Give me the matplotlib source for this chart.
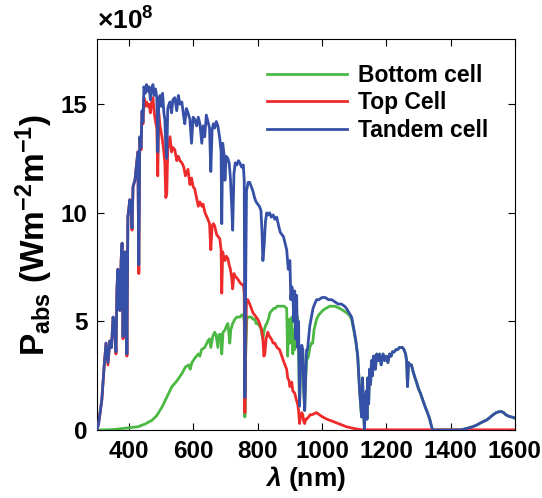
import numpy as np
import matplotlib.pyplot as plt

plt.rcParams['font.family'] = 'Liberation Sans'
plt.rcParams['font.weight'] = 'bold'
plt.rcParams['mathtext.fontset'] = 'custom'
plt.rcParams['mathtext.rm'] = 'Liberation Sans:bold'
plt.rcParams['mathtext.bf'] = 'Liberation Sans:bold'
plt.rcParams['mathtext.it'] = 'Liberation Sans:italic:bold'
plt.rcParams['mathtext.default'] = 'bf'

# absorbed power density, units of 1e8 W m^-2 m^-1
wl_tandem = [300, 305, 315, 322, 328, 334, 340, 345, 350, 355, 359, 362, 365, 368, 371, 375, 378, 381, 384,
             387, 390, 393, 396, 402, 406, 409, 412, 418, 422, 427, 430, 433, 437, 440, 443, 446, 450, 454,
             458, 462, 466, 470, 474, 478, 482, 486, 489, 492, 496, 500, 504, 508, 511, 514, 517, 520, 524,
             527, 532, 536, 542, 548, 553, 558, 564, 569, 573, 578, 583, 589, 594, 599, 604, 610, 615, 620,
             626, 630, 635, 640, 645, 650, 654, 658, 662, 666, 671, 676, 682, 686, 688, 691, 695, 698, 702,
             707, 711, 715, 719, 722, 726, 730, 735, 740, 744, 750, 755, 758, 760, 762, 765, 770, 775, 780,
             785, 790, 795, 800, 805, 810, 813, 816, 820, 824, 828, 833, 837, 842, 848, 853, 859, 865, 870,
             875, 880, 885, 890, 895, 900, 903, 906, 909, 912, 915, 918, 921, 924, 927, 930, 933, 937, 940,
             943, 946, 949, 952, 955, 958, 962, 967, 972, 977, 983, 990, 1000, 1010, 1020, 1030, 1040, 1050,
             1060, 1070, 1076, 1084, 1092, 1096, 1101, 1106, 1111, 1114, 1117, 1120, 1123, 1126, 1129, 1132,
             1135, 1138, 1140, 1142, 1145, 1148, 1151, 1154, 1157, 1160, 1163, 1166, 1170, 1175, 1179, 1184,
             1190, 1195, 1200, 1205, 1210, 1215, 1219, 1225, 1230, 1235, 1241, 1246, 1250, 1255, 1260, 1263,
             1266, 1269, 1273, 1278, 1285, 1294, 1300, 1306, 1313, 1320, 1328, 1335, 1340, 1344, 1430, 1450,
             1468, 1480, 1490, 1500, 1511, 1520, 1530, 1542, 1550, 1558, 1565, 1572, 1583, 1590, 1600]
p_tandem = [0, 0.3, 1.4, 2.9, 4.0, 3.1, 4.1, 3.8, 5.2, 4.6, 3.6, 6.5, 7.4, 6.0, 5.5, 7.8, 8.6, 4.3, 7.5,
            8.2, 7.9, 3.5, 9.8, 10.6, 10.1, 9.3, 11.2, 11.5, 12.1, 12.8, 7.6, 13.5, 13.0, 14.7, 14.2, 15.8,
            15.5, 15.9, 15.6, 15.8, 15.2, 15.7, 15.9, 15.4, 15.7, 15.3, 12.8, 15.0, 15.4, 14.9, 15.5, 14.6,
            14.3, 13.0, 12.5, 14.8, 15.0, 15.1, 14.6, 15.2, 15.3, 14.7, 15.4, 15.0, 15.1, 14.5, 14.1, 14.8,
            14.6, 14.3, 13.2, 14.4, 14.3, 14.0, 14.4, 14.1, 13.2, 14.0, 13.5, 14.5, 14.2, 13.9, 11.9, 13.8,
            14.1, 13.9, 14.2, 14.0, 13.4, 12.8, 9.5, 13.2, 12.7, 11.5, 12.6, 12.5, 12.3, 11.6, 10.3, 9.2,
            11.8, 12.3, 12.2, 12.4, 12.3, 12.1, 12.2, 11.5, 1.5, 6.0, 11.0, 11.4, 11.4, 11.2, 11.0, 10.7,
            10.5, 10.4, 10.3, 10.1, 9.2, 7.8, 8.5, 9.6, 10.0, 9.9, 10.0, 9.8, 9.9, 9.7, 9.8, 9.4, 9.1, 9.0,
            8.9, 8.6, 8.3, 7.4, 7.8, 6.0, 6.6, 6.4, 5.0, 6.4, 4.2, 6.2, 3.8, 5.0, 1.1, 3.0, 3.9, 3.7, 2.0,
            0.9, 2.5, 3.7, 3.7, 4.2, 4.8, 5.2, 5.6, 5.8, 6.0, 6.0, 6.1, 6.1, 6.0, 6.0, 5.9, 5.8, 5.8, 5.7,
            5.6, 5.4, 5.2, 4.9, 4.5, 4.0, 3.4, 2.6, 1.8, 1.2, 0.6, 2.4, 0.9, 0.0, 1.5, 1.8, 0.5, 2.4, 1.2,
            2.8, 2.1, 3.2, 2.5, 3.4, 3.4, 2.8, 3.5, 3.2, 3.5, 3.0, 3.5, 3.2, 3.4, 3.1, 3.5, 3.4, 3.6, 3.6,
            3.7, 3.7, 3.8, 3.8, 3.8, 3.7, 3.5, 3.2, 2.0, 3.1, 3.0, 3.0, 2.6, 2.2, 1.9, 1.7, 1.4, 1.1, 0.8,
            0.5, 0.2, 0.0, 0.0, 0.07, 0.15, 0.22, 0.3, 0.38, 0.45, 0.55, 0.68, 0.8, 0.84, 0.85, 0.8, 0.7,
            0.62, 0.6, 0.55]

wl_top = [300, 305, 315, 322, 328, 334, 340, 345, 350, 355, 359, 362, 365, 368, 371, 375, 378, 381, 384,
          387, 390, 393, 396, 402, 406, 409, 412, 418, 422, 427, 430, 433, 437, 440, 443, 446, 450, 454, 458,
          462, 466, 470, 474, 478, 482, 486, 489, 492, 496, 502, 508, 511, 514, 517, 520, 527, 532, 536, 542,
          548, 553, 558, 564, 570, 575, 583, 589, 594, 599, 604, 611, 615, 620, 626, 630, 636, 642, 645, 650,
          654, 658, 662, 666, 672, 677, 682, 686, 688, 691, 695, 698, 702, 707, 711, 715, 719, 722, 726, 729,
          735, 740, 744, 750, 755, 758, 760, 762, 765, 769, 775, 780, 785, 790, 795, 800, 806, 812, 816, 819,
          822, 826, 831, 837, 842, 848, 853, 860, 868, 875, 882, 890, 893, 897, 900, 906, 909, 915, 920, 924,
          927, 930, 933, 937, 940, 943, 946, 949, 952, 958, 963, 968, 975, 983, 992, 1002, 1015, 1033, 1050,
          1076, 1100, 1117, 1130, 1600]
p_top = [0, 0.3, 1.4, 2.9, 4.0, 3.0, 4.1, 3.8, 5.2, 4.6, 3.5, 6.5, 7.4, 6.0, 5.5, 7.8, 8.6, 4.2, 7.5, 8.2,
         7.9, 3.4, 9.8, 10.6, 10.1, 9.2, 11.2, 11.5, 12.1, 12.8, 7.2, 13.4, 12.9, 14.6, 14.1, 15.3, 14.9, 15.1,
         14.9, 15.0, 14.6, 15.1, 15.3, 14.6, 14.2, 13.9, 11.7, 14.6, 14.0, 13.5, 12.8, 12.3, 10.7, 10.9, 12.9,
         13.5, 12.8, 13.0, 12.9, 12.4, 12.6, 12.4, 12.3, 12.1, 11.7, 12.0, 11.3, 11.6, 11.2, 11.1, 10.6, 10.3,
         10.5, 10.3, 10.4, 10.0, 9.8, 9.7, 9.5, 8.3, 9.4, 9.5, 9.4, 9.0, 8.9, 8.8, 8.3, 6.3, 8.2, 7.9, 7.8,
         8.0, 7.9, 7.6, 7.4, 7.0, 6.5, 7.2, 7.1, 7.0, 6.9, 6.8, 6.7, 6.7, 6.3, 0.8, 3.5, 6.0, 6.0, 5.8, 5.6,
         5.4, 5.3, 5.2, 5.1, 4.9, 4.6, 4.2, 3.4, 3.5, 4.2, 4.5, 4.3, 4.2, 4.0, 4.0, 3.8, 3.7, 3.4, 3.1, 2.8,
         2.4, 2.3, 2.0, 2.2, 1.8, 1.7, 1.4, 1.2, 0.9, 0.3, 0.6, 0.8, 0.7, 0.4, 0.3, 0.5, 0.5, 0.6, 0.7, 0.7,
         0.75, 0.8, 0.7, 0.6, 0.5, 0.4, 0.3, 0.15, 0.07, 0.02, 0.01, 0.01]

wl_bottom = [300, 350, 396, 427, 450, 471, 485, 502, 515, 525, 533, 545, 555, 564, 575, 585, 590, 595, 604,
             615, 620, 625, 635, 645, 650, 654, 660, 666, 670, 676, 680, 686, 688, 692, 698, 703, 707, 710,
             713, 716, 722, 729, 735, 740, 745, 750, 755, 758, 760, 762, 766, 769, 775, 780, 785, 791, 795,
             800, 805, 810, 813, 816, 820, 824, 828, 833, 838, 844, 850, 855, 860, 868, 875, 882, 890, 893,
             897, 900, 903, 906, 909, 912, 915, 918, 921, 924, 927, 930, 933, 937, 940, 943, 946, 949, 952,
             958, 962, 967, 971, 975, 983, 990, 1002, 1012, 1024, 1040, 1055, 1066, 1076, 1084, 1092, 1096,
             1101]
p_bottom = [0, 0.02, 0.1, 0.15, 0.28, 0.45, 0.65, 1.05, 1.45, 1.75, 2.0, 2.2, 2.4, 2.6, 2.9, 3.0, 2.8, 3.1,
            3.3, 3.5, 3.4, 3.7, 3.8, 4.1, 4.2, 3.8, 4.3, 4.5, 4.4, 3.8, 4.4, 4.4, 3.5, 4.5, 4.6, 4.8, 4.9,
            4.5, 4.0, 4.6, 4.9, 5.1, 5.2, 5.2, 5.2, 5.3, 5.3, 5.0, 0.6, 3.2, 5.1, 5.2, 5.2, 5.2, 5.1, 5.1,
            4.9, 4.9, 4.8, 4.7, 4.4, 4.2, 4.6, 4.8, 4.9, 5.1, 5.4, 5.5, 5.6, 5.6, 5.7, 5.7, 5.7, 5.7, 5.6,
            3.4, 5.1, 4.0, 5.0, 5.2, 3.5, 4.6, 3.7, 4.8, 5.0, 5.2, 3.5, 1.1, 2.8, 3.5, 3.7, 1.8, 0.9, 2.3,
            3.2, 3.4, 3.8, 4.0, 4.0, 4.6, 5.1, 5.3, 5.5, 5.6, 5.7, 5.7, 5.6, 5.5, 5.4, 5.3, 5.1, 4.8, 4.4]

# past the top-cell band edge the bottom cell takes all of the tandem absorption
wl_tandem = np.array(wl_tandem)
p_tandem = np.array(p_tandem)
tail = wl_tandem > 1101
wl_bottom = np.concatenate([wl_bottom, wl_tandem[tail]])
p_bottom = np.concatenate([p_bottom, p_tandem[tail]])

GREEN = '#4cb844'
RED = '#ee2b2b'
BLUE = '#3550a6'

fig = plt.figure(figsize=(5.42, 4.98), dpi=100)
ax = fig.add_axes([0.179, 0.1365, 0.771, 0.7852])

ax.plot(wl_bottom, p_bottom, color=GREEN, lw=2.0, label='Bottom cell', zorder=2)
ax.plot(wl_top, p_top, color=RED, lw=2.0, label='Top Cell', zorder=3)
ax.plot(wl_tandem, p_tandem, color=BLUE, lw=2.0, label='Tandem cell', zorder=4)

ax.set_xlim(300, 1600)
ax.set_ylim(0, 18)
ax.set_xticks([400, 600, 800, 1000, 1200, 1400, 1600])
ax.set_yticks([0, 5, 10, 15])
ax.tick_params(direction='in', top=True, right=True, length=5, width=0.8,
               labelsize=17.5, pad=7)
for lab in ax.get_xticklabels() + ax.get_yticklabels():
    lab.set_fontweight('bold')
for s in ax.spines.values():
    s.set_linewidth(0.8)

ax.set_xlabel(r'$\it{λ}$ (nm)', fontsize=19, fontweight='bold', labelpad=1)
ax.set_ylabel(r'P$_{abs}$ (Wm$^{-2}$m$^{-1}$)', fontsize=24, fontweight='bold', labelpad=4)
ax.text(0.0, 1.012, r'$\times$10$^8$', transform=ax.transAxes, fontsize=19,
        fontweight='bold', ha='left', va='bottom')

leg = ax.legend(loc='upper right', bbox_to_anchor=(0.985, 0.99), frameon=False,
                handlelength=3.5, handletextpad=0.45, labelspacing=0.2,
                prop={'weight': 'bold', 'size': 16.5})

fig.savefig('out.png', dpi=100)
